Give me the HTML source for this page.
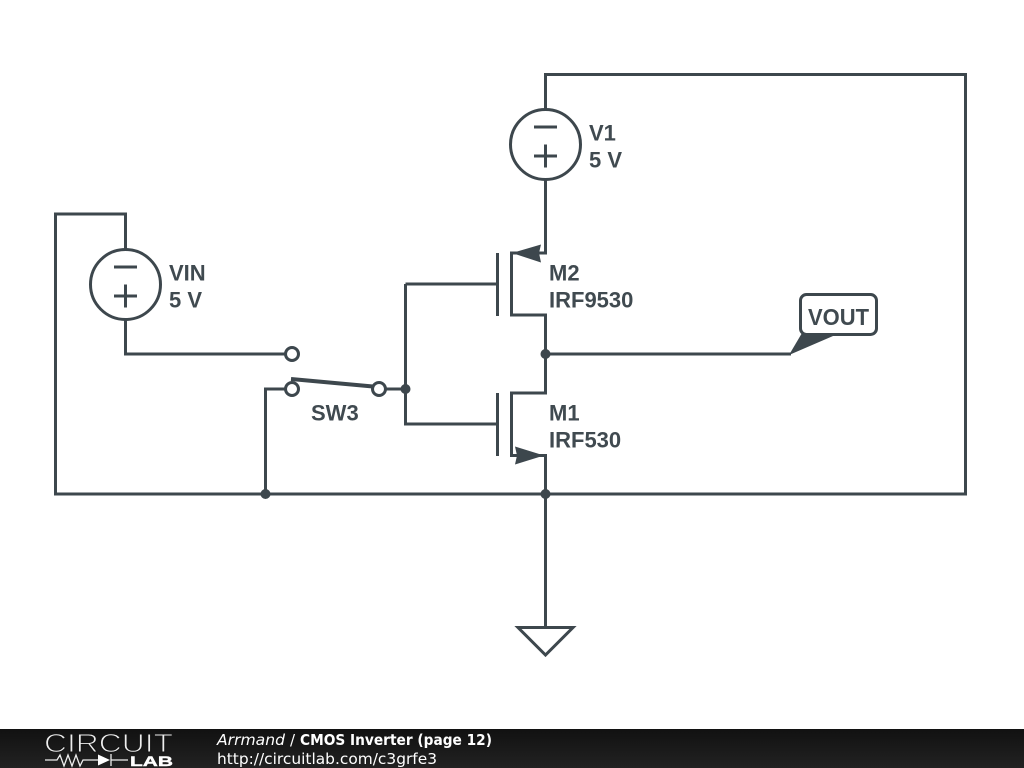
<!DOCTYPE html>
<html>
<head>
<meta charset="utf-8">
<style>
html,body{margin:0;padding:0;background:#fff;width:1024px;height:768px;overflow:hidden}
svg{display:block}
.l{font-family:"Liberation Sans",sans-serif;font-weight:bold;font-size:22px;fill:#404a50}
</style>
</head>
<body>
<svg width="1024" height="768" viewBox="0 0 1024 768" xmlns="http://www.w3.org/2000/svg">
<defs>
<linearGradient id="bar" x1="0" y1="0" x2="0" y2="1">
<stop offset="0" stop-color="#111"/>
<stop offset="1" stop-color="#222"/>
</linearGradient>
</defs>
<rect width="1024" height="768" fill="#fff"/>
<g fill="none" stroke="#3d474d" stroke-width="3">
<path d="M545.500 109V74.500H965.500V494H55.500V214H125.500V249"/>
<path d="M125.500 320V354H285"/>
<path d="M545.500 180V253H511.500V315H545.500V393H511.500V455.500H545.500V627"/>
<path d="M545.500 354H791"/>
<path d="M285 389H265.500V494"/>
<path d="M386 389H405.500"/>
<path d="M405.500 284H497.500M405.500 284V424H497.500"/>
<path d="M497.500 253V316M497.500 393V456"/>
<circle cx="545.500" cy="144.500" r="35"/>
<circle cx="125.500" cy="284.500" r="35"/>
<path d="M534 127H557M534 156H557M545.500 144.500V167.500"/>
<path d="M114 267H137M114 296H137M125.500 284.500V307.500"/>
<circle cx="292" cy="354" r="6.500"/>
<circle cx="292" cy="389" r="6.500"/>
<circle cx="379" cy="389" r="6.500"/>
<path d="M518 627.500H573L545.500 655Z"/>
<rect x="800.500" y="294.500" width="76" height="40" rx="6" ry="6"/>
</g>
<path d="M291 379L373 386.500" stroke="#3d474d" stroke-width="4" fill="none"/>
<path d="M512 253L541 244.500L539 253L541 262.500Z" fill="#3d474d"/>
<path d="M544 455.500L515 446.500L517 455.500L515 464.500Z" fill="#3d474d"/>
<path d="M789 355L802 333H840Z" fill="#3d474d"/>
<g fill="#3d474d">
<circle cx="405.500" cy="389" r="5"/>
<circle cx="545.500" cy="354" r="5"/>
<circle cx="265.500" cy="494" r="5"/>
<circle cx="545.500" cy="494" r="5"/>
</g>
<text class="l" x="589" y="140.500">V1</text>
<text class="l" x="589" y="167.500">5 V</text>
<text class="l" x="169" y="280.500">VIN</text>
<text class="l" x="169" y="307.500">5 V</text>
<text class="l" x="549" y="280.500">M2</text>
<text class="l" x="549" y="307.500">IRF9530</text>
<text class="l" x="549" y="420.500">M1</text>
<text class="l" x="549" y="447.500">IRF530</text>
<text class="l" x="311" y="420.500">SW3</text>
<text class="l" x="808" y="325" textLength="61" lengthAdjust="spacingAndGlyphs" style="font-size:23px">VOUT</text>
<rect x="0" y="729" width="1024" height="39" fill="url(#bar)"/>
<text x="44" y="752" font-family="Liberation Sans,sans-serif" font-size="26" fill="#eee" stroke="#161616" stroke-width="1" textLength="129" lengthAdjust="spacingAndGlyphs">CIRCUIT</text>
<path d="M45 760H57L60 755L64 766L68 755L72 766L76 755L80 766L83 760H98M111 754V766M111 760H128" stroke="#eee" stroke-width="1.300" fill="none"/>
<path d="M98 754.500L110 760L98 765.500Z" fill="#fff"/>
<text x="130" y="766" font-family="Liberation Sans,sans-serif" font-size="14" font-weight="bold" fill="#fff" stroke="#fff" stroke-width="0.400" textLength="43" lengthAdjust="spacingAndGlyphs">LAB</text>
<text x="217" y="745" font-family="DejaVu Sans,sans-serif" font-size="15" font-style="italic" fill="#fff" textLength="68" lengthAdjust="spacingAndGlyphs">Arrmand</text>
<text x="290" y="745" font-family="DejaVu Sans,sans-serif" font-size="15" fill="#fff">/</text>
<text x="300" y="745" font-family="DejaVu Sans,sans-serif" font-size="15" font-weight="bold" fill="#fff" textLength="192" lengthAdjust="spacingAndGlyphs">CMOS Inverter (page 12)</text>
<text x="217" y="764" font-family="DejaVu Sans,sans-serif" font-size="15.400" fill="#fff" textLength="220" lengthAdjust="spacingAndGlyphs">http://circuitlab.com/c3grfe3</text>
</svg>
</body>
</html>
